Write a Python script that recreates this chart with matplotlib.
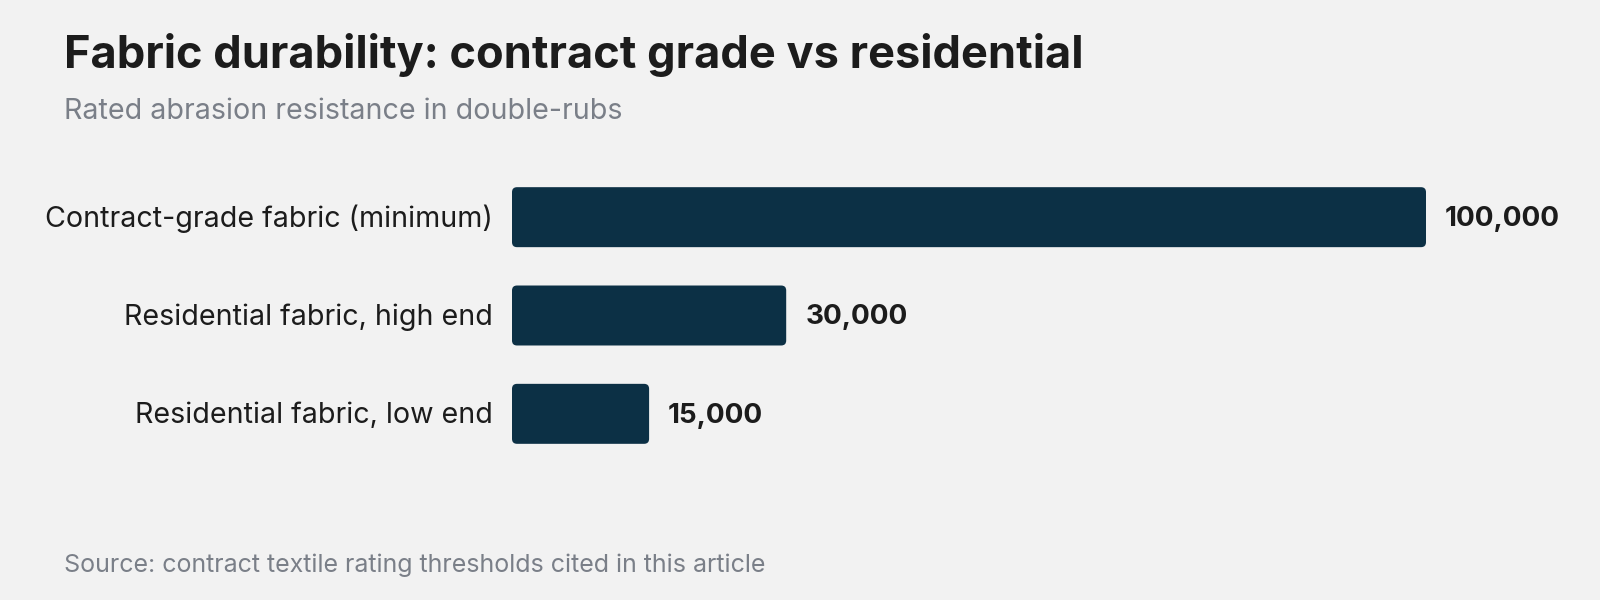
import matplotlib
matplotlib.use("Agg")
from matplotlib import pyplot as plt
from matplotlib.patches import FancyBboxPatch

categories = [
    "Contract-grade fabric (minimum)",
    "Residential fabric, high end",
    "Residential fabric, low end",
]
values = [100000, 30000, 15000]
value_labels = ["100,000", "30,000", "15,000"]

title = "Fabric durability: contract grade vs residential"
subtitle = "Rated abrasion resistance in double-rubs"
source = "Source: contract textile rating thresholds cited in this article"

bg = "#f2f2f2"
bar_color = "#0c3045"
dark = "#1c1c1c"
grey = "#7a7f88"

plt.rcParams["font.family"] = ["Inter", "DejaVu Sans"]

W, H = 1600, 600
fig = plt.figure(figsize=(16, 6), dpi=100, facecolor=bg)

# axes: x=0 at px 512, x=100000 at px 1426; rows centred at px 217/316/414
ax = fig.add_axes([512 / W, (H - 463) / H, 914 / W, 295 / H])
ax.set_facecolor(bg)
ax.set_xlim(0, 100000)
ax.set_ylim(2.5, -0.5)
ax.axis("off")

bar_h = 0.61
x_per_px = 100000 / 914
y_per_px = 3 / 295
text_dy = 2 * y_per_px  # nudge labels down a touch
for i, (v, lab) in enumerate(zip(values, value_labels)):
    patch = FancyBboxPatch(
        (0, i - bar_h / 2), v, bar_h,
        boxstyle=f"round,pad=0,rounding_size={5 * x_per_px}",
        mutation_aspect=y_per_px / x_per_px,
        facecolor=bar_color, edgecolor="none",
    )
    ax.add_patch(patch)
    ax.text(v + 19 * x_per_px, i + text_dy, lab, ha="left", va="center",
            fontsize=20, fontweight="bold", color=dark)
    ax.text(-19 * x_per_px, i + text_dy, categories[i], ha="right", va="center",
            fontsize=20.6, color=dark, clip_on=False)

fig.text(64 / W, 1 - 55 / H, title, ha="left", va="center",
         fontsize=32.5, fontweight="bold", color=dark)
fig.text(64 / W, 1 - 111 / H, subtitle, ha="left", va="center",
         fontsize=20.6, color=grey)
fig.text(64 / W, 1 - 565 / H, source, ha="left", va="center",
         fontsize=18, color=grey)

fig.savefig("out.png", dpi=100, facecolor=bg)
